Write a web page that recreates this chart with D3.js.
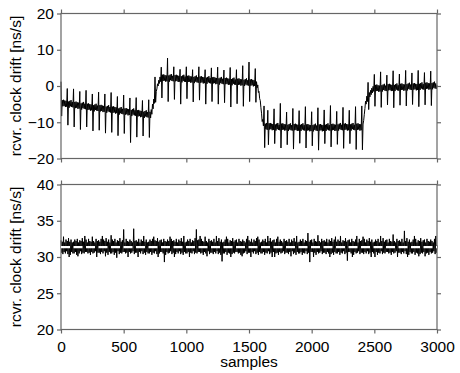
<!DOCTYPE html>
<html>
<head>
  <meta charset="utf-8" />
  <title>Receiver clock drift</title>
  <script src="https://cdn.jsdelivr.net/npm/d3@7"></script>
  <style>
    body { margin: 0; background: white; }
    svg { display: block; }
  </style>
</head>
<body>
  <svg id="chart" width="460" height="373"></svg>
  <script>
    // one value every 5 samples
    var sampleStep = 5;
    var xTicks = [0, 500, 1000, 1500, 2000, 2500, 3000];
    var topTicks = [-20, -10, 0, 10, 20];
    var bottomTicks = [20, 25, 30, 35, 40];
    var yLabel = "rcvr. clock drift [ns/s]";
    var xLabel = "samples";
    var meanDrift = 31.35;

    // top panel: raw drift, one row = 50 samples
    var topDrift = [
      1.2, -8.3, -3.9, -5.6, -3.8, -5.5, -4.0, -5.8, -4.1, -5.7,
      -0.7, -10.8, -4.3, -6.0, -4.1, -5.6, -3.9, -5.8, -4.4, -5.9,
      -0.8, -11.3, -4.4, -6.1, -4.3, -6.0, -4.5, -6.3, -4.6, -6.2,
      -1.5, -12.0, -4.8, -6.5, -4.6, -6.1, -4.4, -6.3, -4.9, -6.4,
      -1.2, -11.3, -4.9, -6.6, -4.8, -6.5, -5.0, -6.8, -5.1, -6.7,
      -2.2, -12.4, -5.3, -7.0, -5.1, -6.6, -4.9, -6.8, -5.4, -6.9,
      -1.7, -12.2, -5.3, -7.0, -5.2, -6.9, -5.4, -7.2, -5.5, -7.1,
      -2.2, -13.0, -5.7, -7.4, -5.5, -7.0, -5.3, -7.2, -5.8, -7.3,
      -1.8, -12.8, -5.7, -7.4, -5.6, -7.3, -5.8, -7.6, -5.9, -7.5,
      -2.9, -13.7, -6.2, -7.9, -6.0, -7.5, -5.8, -7.7, -6.3, -7.8,
      -2.5, -13.1, -6.2, -7.9, -6.1, -7.8, -6.3, -8.1, -6.4, -8.0,
      -3.3, -15.6, -6.6, -8.3, -6.4, -7.9, -6.2, -8.1, -6.7, -8.2,
      -3.2, -14.1, -6.7, -8.4, -6.6, -8.3, -6.8, -8.6, -6.9, -8.5,
      -4.0, -13.8, -7.1, -8.8, -6.9, -8.4, -6.7, -8.6, -7.2, -8.7,
      -3.8, -14.2, -7.1, -8.8, -6.5, -7.8, -5.0, -6.3, -3.6, -4.8,
      2.5, -4.5, -1.5, -0.8, 0.6, 0.0, 1.6, 0.7, 2.5, 1.2,
      5.2, -3.3, 3.1, 1.4, 3.2, 1.5, 3.0, 1.2, 2.9, 1.3,
      7.7, -4.3, 2.9, 1.2, 3.1, 1.6, 3.3, 1.4, 2.8, 1.3,
      5.3, -3.7, 3.0, 1.3, 3.1, 1.4, 2.9, 1.1, 2.8, 1.2,
      4.6, -5.0, 2.7, 1.0, 2.9, 1.4, 3.1, 1.2, 2.6, 1.1,
      5.3, -3.5, 2.8, 1.1, 2.9, 1.2, 2.7, 0.9, 2.6, 1.0,
      4.5, -4.4, 2.5, 0.8, 2.7, 1.2, 2.9, 1.0, 2.4, 0.9,
      5.3, -3.9, 2.6, 0.9, 2.7, 1.0, 2.5, 0.7, 2.4, 0.8,
      4.5, -5.0, 2.3, 0.6, 2.5, 1.0, 2.7, 0.8, 2.2, 0.7,
      5.0, -4.3, 2.4, 0.7, 2.5, 0.8, 2.3, 0.5, 2.2, 0.6,
      5.2, -5.0, 2.1, 0.4, 2.3, 0.8, 2.5, 0.6, 2.0, 0.5,
      4.4, -4.6, 2.2, 0.5, 2.3, 0.6, 2.1, 0.3, 2.0, 0.4,
      5.1, -5.8, 1.9, 0.2, 2.1, 0.6, 2.3, 0.4, 1.8, 0.3,
      4.5, -4.9, 2.0, 0.3, 2.1, 0.4, 1.9, 0.1, 1.8, 0.2,
      5.6, -5.6, 1.7, 0.0, 1.9, 0.4, 2.1, 0.2, 1.6, 0.1,
      6.6, -4.3, 1.8, 0.1, 1.9, 0.2, 1.7, -0.1, 1.6, 0.0,
      4.8, -4.5, 1.2, -0.5, 0.3, -1.8, -1.5, -3.5, -4.0, -6.0,
      -7.5, -9.8, -9.2, -11.0, -5.5, -17.0, -10.4, -11.9, -10.2, -12.1,
      -6.7, -16.2, -10.3, -12.0, -10.2, -11.9, -10.4, -12.2, -10.5, -12.1,
      -6.3, -15.9, -10.6, -12.3, -10.4, -11.9, -10.2, -12.1, -10.7, -12.2,
      -4.8, -17.1, -10.4, -12.1, -10.3, -12.0, -10.5, -12.3, -10.6, -12.2,
      -7.2, -16.2, -10.7, -12.4, -10.5, -12.0, -10.3, -12.2, -10.8, -12.3,
      -6.2, -17.4, -10.5, -12.2, -10.4, -12.1, -10.6, -12.4, -10.7, -12.3,
      -6.8, -15.8, -10.7, -12.4, -10.5, -12.0, -10.3, -12.2, -10.8, -12.3,
      -5.7, -17.1, -10.6, -12.3, -10.5, -12.2, -10.7, -12.5, -10.8, -12.4,
      -7.1, -16.5, -10.8, -12.5, -10.6, -12.1, -10.4, -12.3, -10.9, -12.4,
      -6.0, -17.7, -10.6, -12.3, -10.5, -12.2, -10.7, -12.5, -10.8, -12.4,
      -6.6, -15.9, -10.7, -12.4, -10.5, -12.0, -10.3, -12.2, -10.8, -12.3,
      -5.4, -16.8, -10.5, -12.2, -10.4, -12.1, -10.6, -12.4, -10.7, -12.3,
      -7.0, -16.1, -10.6, -12.3, -10.4, -11.9, -10.2, -12.1, -10.7, -12.2,
      -5.9, -17.2, -10.4, -12.1, -10.3, -12.0, -10.5, -12.3, -10.6, -12.2,
      -6.7, -15.9, -10.6, -12.3, -10.4, -11.9, -10.2, -12.1, -10.7, -12.2,
      -5.7, -17.5, -10.4, -12.1, -10.3, -12.0, -10.5, -12.3, -10.6, -12.2,
      -5.5, -17.6, -10.5, -9.5, -7.8, -6.2, -4.2, -5.0, -2.8, -4.3,
      1.0, -6.5, -1.8, -3.0, -1.2, -2.4, -0.6, -1.9, -0.1, -1.5,
      3.2, -5.6, 0.3, -1.4, 0.4, -1.3, 0.2, -1.6, 0.1, -1.5,
      3.9, -5.9, 0.2, -1.5, 0.4, -1.1, 0.6, -1.3, 0.1, -1.4,
      3.0, -5.2, 0.5, -1.2, 0.6, -1.1, 0.4, -1.4, 0.3, -1.3,
      4.2, -6.0, 0.3, -1.4, 0.5, -1.0, 0.7, -1.2, 0.2, -1.3,
      3.3, -5.3, 0.6, -1.1, 0.7, -1.0, 0.5, -1.3, 0.4, -1.2,
      4.3, -5.5, 0.5, -1.2, 0.7, -0.8, 0.9, -1.0, 0.4, -1.1,
      3.6, -5.1, 0.7, -1.0, 0.8, -0.9, 0.6, -1.2, 0.5, -1.1,
      4.3, -5.7, 0.6, -1.1, 0.8, -0.7, 1.0, -0.9, 0.5, -1.0,
      3.7, -5.2, 0.9, -0.8, 1.0, -0.7, 0.8, -1.0, 0.7, -0.9,
      4.1, -5.4, 0.8, -0.9, 1.0, -0.5, 1.2, -0.7, 0.7, -0.8,
      0.2
    ];

    // bottom panel: corrected drift, one row = 100 samples
    var bottomDrift = [
      32.3,30.6,32.1,30.4,32.8,30.7,32.0,30.5,32.4,30.8,32.2,30.4,32.6,30.0,32.1,30.3,32.4,30.7,32.0,30.5,
      32.1,30.5,32.4,30.7,32.2,30.3,32.5,30.1,32.0,30.5,32.3,30.8,32.2,30.4,32.6,30.6,32.1,30.5,32.9,30.7,
      32.4,30.7,32.0,30.5,32.5,30.6,32.2,30.3,32.1,30.7,32.8,30.5,32.2,30.6,32.0,30.8,32.5,30.0,32.2,30.6,
      32.3,30.6,32.1,30.4,32.5,30.7,32.9,30.5,32.4,30.8,32.2,30.1,32.6,30.6,32.1,30.3,32.4,30.7,32.0,30.5,
      33.0,30.5,32.4,30.7,32.2,30.3,32.5,30.6,32.0,29.9,32.3,30.8,32.2,30.4,32.6,30.6,32.1,30.5,32.3,30.7,
      33.8,30.7,32.0,30.5,32.5,30.6,32.2,30.0,32.1,30.7,32.4,30.5,32.2,30.6,32.0,30.8,33.9,30.4,32.2,30.6,
      32.3,30.6,32.1,30.0,32.5,30.7,32.0,30.5,32.4,30.8,32.2,30.4,32.9,30.6,32.1,30.3,32.4,30.7,32.0,30.5,
      32.1,30.5,32.4,30.7,32.2,30.3,32.5,30.6,32.8,30.5,32.3,30.8,32.2,30.4,32.6,30.0,32.1,30.5,32.3,30.7,
      32.4,30.7,32.0,30.5,32.5,29.3,32.2,30.3,32.1,30.7,32.4,30.5,32.2,30.6,32.8,30.8,32.5,30.4,32.2,30.6,
      32.3,30.0,32.1,30.4,32.5,30.7,32.0,30.5,32.4,30.8,32.2,30.4,32.6,30.6,32.1,30.3,32.9,30.7,32.0,30.5,
      32.1,30.5,32.4,30.7,32.2,30.0,32.5,30.6,32.0,30.5,32.3,30.8,32.2,30.4,32.6,30.6,33.8,30.5,32.3,30.7,
      32.4,30.7,32.9,30.5,32.5,30.6,32.2,30.3,32.1,30.7,32.8,30.5,32.2,30.1,32.0,30.8,32.5,30.4,32.2,30.6,
      32.3,30.6,32.1,30.4,32.5,30.7,32.0,30.5,32.9,30.8,32.2,30.4,32.6,30.6,32.1,30.3,32.4,29.4,32.0,30.5,
      32.1,30.5,32.4,30.7,32.8,30.3,32.5,30.6,32.0,30.5,32.3,30.0,32.2,30.4,32.6,30.6,32.1,30.5,32.3,30.7,
      32.4,30.7,32.0,30.5,32.5,30.6,32.2,30.3,32.1,30.1,32.4,30.5,32.2,30.6,32.0,30.8,32.5,30.4,32.9,30.6,
      32.3,30.6,32.1,30.0,32.5,30.7,32.0,30.5,32.4,30.8,32.2,30.4,32.6,30.6,32.8,30.3,32.4,30.7,32.0,30.5,
      32.1,30.5,32.4,30.7,32.2,30.3,32.5,30.6,32.0,30.5,32.9,30.8,32.2,30.4,32.6,30.6,32.1,30.0,32.3,30.7,
      32.4,30.0,32.0,30.5,32.5,30.6,32.8,30.3,32.1,30.7,32.4,30.5,32.2,30.6,32.0,30.8,32.5,30.4,32.2,30.6,
      32.3,30.6,32.1,30.4,32.5,30.7,32.0,30.1,32.4,30.8,32.2,30.4,32.6,30.6,32.1,30.3,32.9,30.7,32.0,30.5,
      32.1,30.5,32.4,30.7,32.2,30.3,32.5,30.6,32.0,30.5,32.3,30.8,32.2,30.4,33.3,30.6,32.1,29.3,32.3,30.7,
      32.4,30.7,32.0,30.0,32.5,30.6,32.2,30.3,32.1,30.7,33.0,30.5,32.2,30.6,32.0,30.8,32.5,30.4,32.2,30.6,
      32.3,30.6,32.1,30.4,32.5,30.7,32.0,30.5,32.4,30.0,32.2,30.4,32.6,30.6,32.1,30.3,32.4,30.7,32.8,30.5,
      32.1,30.5,32.4,30.7,32.2,30.3,32.9,30.6,32.0,30.5,32.3,30.8,32.2,30.4,32.6,30.6,32.1,29.5,32.3,30.7,
      32.4,30.7,32.0,30.5,32.5,30.0,32.2,30.3,32.1,30.7,32.4,30.5,32.9,30.6,32.0,30.8,32.5,30.4,32.2,30.6,
      32.3,30.6,32.8,30.4,32.5,30.7,32.0,30.5,32.4,30.8,32.2,30.4,32.6,30.6,32.1,30.0,32.4,30.7,32.0,30.5,
      32.1,30.0,32.4,30.7,32.2,30.3,32.5,30.6,32.0,30.5,32.9,30.8,32.2,30.4,32.6,30.6,32.1,30.5,32.3,30.7,
      32.4,30.7,32.0,30.5,32.5,30.6,32.2,30.3,32.1,30.7,33.1,30.5,32.2,30.6,32.0,30.8,32.5,30.0,32.2,30.6,
      32.3,30.6,32.1,30.4,32.5,30.7,32.0,30.5,33.6,30.8,32.2,30.4,32.6,30.0,32.1,30.3,32.4,30.7,32.0,30.5,
      32.1,30.5,32.4,30.7,32.9,30.3,32.5,30.6,32.0,30.5,32.3,30.1,32.2,30.4,32.6,30.6,32.1,30.5,32.3,30.7,
      32.4,30.1,32.0,30.5,32.5,30.6,32.2,30.3,32.1,30.7,32.4,30.5,32.2,30.6,32.0,30.8,32.5,30.4,32.9,30.6,
      31.6
    ];

    var font = '"Liberation Sans", Arial, Helvetica, sans-serif';
    var fontSize = 15.5;
    var svg = d3.select('#chart');
    var left = 61, right = 437;
    var x = d3.scaleLinear().domain([0, 3000]).range([left, right]);

    function panel(data, domain, ticks, top, bottom, showX) {
      var y = d3.scaleLinear().domain(domain).range([bottom, top]);
      var g = svg.append('g');

      var line = d3.line()
        .x(function(d, i) { return x(i * sampleStep); })
        .y(function(d) { return y(d); });

      g.append('path')
        .datum(data)
        .attr('d', line)
        .attr('fill', 'none')
        .attr('stroke', '#000')
        .attr('stroke-width', 1);

      var axes = [
        g.append('g').attr('transform', 'translate(' + left + ',0)')
          .call(d3.axisLeft(y).tickValues(ticks).tickSize(4).tickSizeOuter(0).tickPadding(3).tickFormat(d3.format('d'))),
        g.append('g').attr('transform', 'translate(' + right + ',0)')
          .call(d3.axisRight(y).tickValues(ticks).tickSize(4).tickSizeOuter(0).tickFormat('')),
        g.append('g').attr('transform', 'translate(0,' + top + ')')
          .call(d3.axisTop(x).tickValues(xTicks).tickSize(4).tickSizeOuter(0).tickFormat('')),
        g.append('g').attr('transform', 'translate(0,' + bottom + ')')
          .call(d3.axisBottom(x).tickValues(xTicks).tickSize(4).tickSizeOuter(0).tickPadding(7)
            .tickFormat(showX ? d3.format('d') : ''))
      ];
      axes.forEach(function(a) {
        a.attr('font-family', font).attr('font-size', fontSize);
        a.select('.domain').remove();
        a.selectAll('.tick line').attr('stroke', '#666').attr('stroke-width', 1.2);
        a.selectAll('.tick text').attr('fill', '#000');
      });

      g.append('rect')
        .attr('x', left).attr('y', top)
        .attr('width', right - left).attr('height', bottom - top)
        .attr('fill', 'none').attr('stroke', '#666').attr('stroke-width', 1.2);

      g.append('text')
        .attr('transform', 'translate(21,' + ((top + bottom) / 2) + ') rotate(-90)')
        .attr('text-anchor', 'middle')
        .attr('font-family', font)
        .attr('font-size', fontSize)
        .text(yLabel);

      return y;
    }

    panel(topDrift, [-20, 20], topTicks, 13.5, 158.5, false);
    var yB = panel(bottomDrift, [20, 40], bottomTicks, 184.5, 329.5, true);

    // mean of the corrected drift
    svg.append('line')
      .attr('x1', x(0)).attr('x2', x(3000))
      .attr('y1', yB(meanDrift)).attr('y2', yB(meanDrift))
      .attr('stroke', '#fff')
      .attr('stroke-width', 2.2)
      .attr('stroke-dasharray', '9,3.5');

    svg.append('text')
      .attr('x', (left + right) / 2)
      .attr('y', 367)
      .attr('text-anchor', 'middle')
      .attr('font-family', font)
      .attr('font-size', fontSize)
      .text(xLabel);
  </script>
</body>
</html>
